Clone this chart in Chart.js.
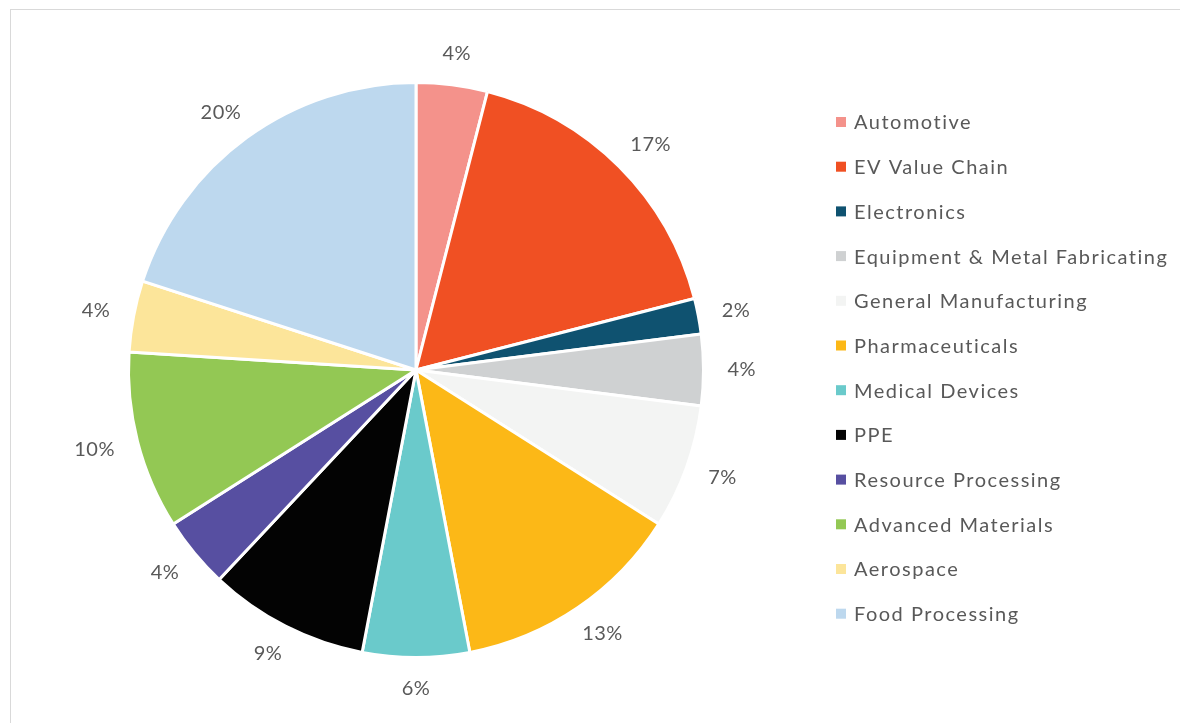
<!DOCTYPE html>
<html>
<head>
<meta charset="utf-8">
<script src="https://cdn.jsdelivr.net/npm/chart.js@4.4.1/dist/chart.umd.min.js"></script>
<style>
  html, body { margin: 0; padding: 0; background: #ffffff; overflow: hidden; }
  #wrap { position: relative; width: 1180px; height: 723px; }
  #frame { position: absolute; left: 10px; top: 9px; width: 1300px; height: 900px; border: 1px solid #d9d9d9; box-sizing: border-box; }
  canvas { position: absolute; left: 0; top: 0; }
</style>
</head>
<body>
<div id="wrap">
  <div id="frame"></div>
  <canvas id="c" width="1180" height="723"></canvas>
</div>
<script>
const categories = [
  "Automotive", "EV Value Chain", "Electronics", "Equipment & Metal Fabricating",
  "General Manufacturing", "Pharmaceuticals", "Medical Devices", "PPE",
  "Resource Processing", "Advanced Materials", "Aerospace", "Food Processing"
];
const shares = [4, 17, 2, 4, 7, 13, 6, 9, 4, 10, 4, 20];
const colors = [
  "#F4928B", "#F05023", "#0F5270", "#CFD1D2", "#F3F4F3", "#FCB817",
  "#6ACACB", "#030303", "#574FA1", "#93C854", "#FCE59A", "#BDD8EE"
];

const TEXT_FONT = '20px Lato, "Open Sans", sans-serif';
const TEXT_COLOR = '#595959';

const labelPlugin = {
  id: 'outLabels',
  afterDatasetsDraw(chart) {
    const ctx = chart.ctx;
    const meta = chart.getDatasetMeta(0);
    const total = shares.reduce((a, b) => a + b, 0);
    ctx.save();
    ctx.font = TEXT_FONT;
    ctx.fillStyle = TEXT_COLOR;
    ctx.textAlign = 'center';
    ctx.textBaseline = 'middle';
    try { ctx.letterSpacing = '0.5px'; } catch (e) {}
    meta.data.forEach((arc, i) => {
      const p = arc.getProps(['x', 'y', 'startAngle', 'endAngle', 'outerRadius'], true);
      const mid = (p.startAngle + p.endAngle) / 2;
      const ux = Math.cos(mid), uy = Math.sin(mid);
      const text = Math.round(shares[i] / total * 100) + '%';
      const w = ctx.measureText(text).width, h = 20;
      const gap = 21;
      const ax = p.x + (p.outerRadius + gap) * ux;
      const ay = p.y + (p.outerRadius + gap) * uy;
      ctx.fillText(text, ax + (w / 2 + 3) * ux, ay + (h / 2) * uy);
    });
    ctx.restore();
  }
};

const legendPlugin = {
  id: 'sideLegend',
  afterDraw(chart) {
    const ctx = chart.ctx;
    ctx.save();
    ctx.font = TEXT_FONT;
    ctx.textAlign = 'left';
    ctx.textBaseline = 'middle';
    try { ctx.letterSpacing = '1.5px'; } catch (e) {}
    const x0 = 836, y0 = 122, step = 44.7;
    categories.forEach((name, i) => {
      const y = y0 + i * step;
      ctx.fillStyle = colors[i];
      ctx.fillRect(x0, y - 5, 10, 10);
      ctx.fillStyle = TEXT_COLOR;
      ctx.fillText(name, x0 + 18, y + 1);
    });
    ctx.restore();
  }
};

new Chart(document.getElementById('c'), {
  type: 'pie',
  data: {
    labels: categories,
    datasets: [{
      data: shares,
      backgroundColor: colors,
      borderColor: '#ffffff',
      borderWidth: 3
    }]
  },
  options: {
    responsive: false,
    devicePixelRatio: 1,
    animation: false,
    layout: { padding: { left: 127, top: 81, right: 475, bottom: 64 } },
    plugins: {
      legend: { display: false },
      tooltip: { enabled: false }
    }
  },
  plugins: [labelPlugin, legendPlugin]
});
</script>
</body>
</html>
